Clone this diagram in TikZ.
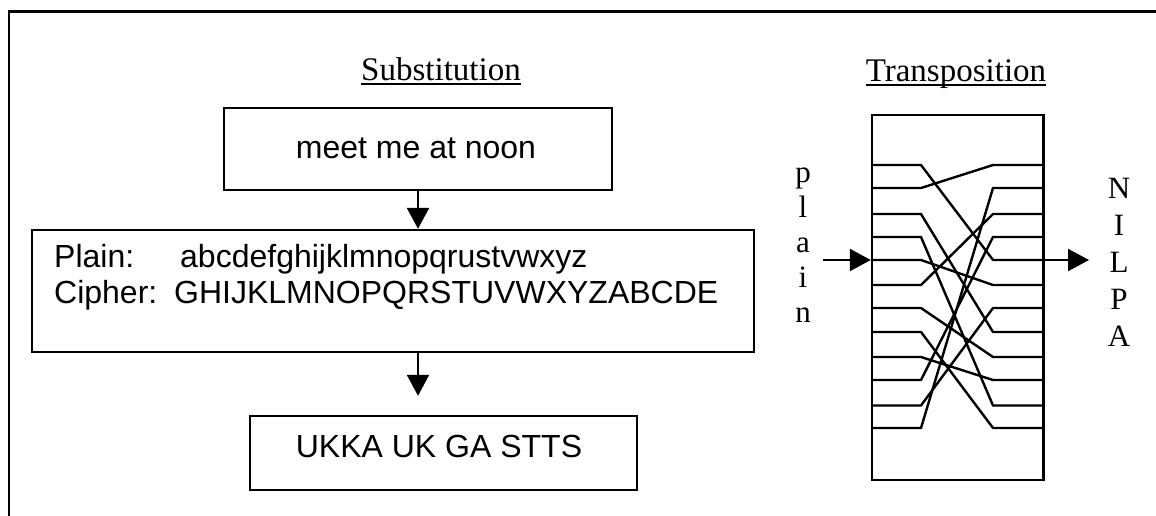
\documentclass[tikz,border=0pt]{standalone}
\usepackage{fontspec}
\setmainfont{Liberation Serif}
\newfontfamily\arialf{Liberation Sans}
\usetikzlibrary{arrows.meta}
\begin{document}
\begin{tikzpicture}[x=1pt,y=-1pt,
  ln/.style={line width=2.4pt},
  wire/.style={line width=2.4pt,line join=miter},
  arr/.style={line width=2.4pt,-{Triangle[length=21pt,width=22pt]}},
  box/.style={draw,line width=2.4pt,rectangle,inner sep=0pt},
  sans/.style={font=\arialf\fontsize{32}{38}\selectfont,inner sep=0pt},
  serif/.style={font=\fontsize{33}{40}\selectfont,inner sep=0pt},
  letter/.style={font=\fontsize{31}{36}\selectfont,inner sep=0pt,anchor=base},
  uline/.style={line width=2pt},
]
\useasboundingbox (0,0) rectangle (1156,515);
% outer frame (cut off at right and bottom)
\draw[ln] (9,520) -- (9,11.5) -- (1160,11.5);

% ---------- Substitution ----------
\node[serif,anchor=base] (subst) at (441,80) {Substitution};
\draw[uline] ([yshift=-4pt]subst.base west) -- ([yshift=-4pt]subst.base east);

\node[box,minimum width=388pt,minimum height=82pt] (b1) at (418,149) {};
\node[sans,anchor=base] (meet) at (416,158) {meet me at noon};

\node[box,minimum width=722pt,minimum height=122pt] (b2) at (393,291) {};
\node[sans,anchor=base west] (plainlab) at (54,267) {Plain:};
\node[sans,anchor=base west] (plainabc) at (180,267) {abcdefghijklmnopqrustvwxyz};
\node[sans,anchor=base west] (cipherlab) at (54,303) {Cipher:};
\node[sans,anchor=base west] (cipherabc) at (174,303) {GHIJKLMNOPQRSTUVWXYZABCDE};

\node[box,minimum width=387pt,minimum height=74pt] (b3) at (443.5,453) {};
\node[sans,anchor=base] (ukka) at (439,457) {UKKA UK GA STTS};

\coordinate (ax) at (418,0);
\draw[arr] (b1.south -| ax) -- (b2.north -| ax);
\draw[arr,shorten >=19pt] (b2.south -| ax) -- (b3.north -| ax);

% ---------- Transposition ----------
\node[serif,anchor=base] (trans) at (956,81) {Transposition};
\draw[uline] ([yshift=-4pt]trans.base west) -- ([yshift=-4pt]trans.base east);

\node[box,minimum width=171.5pt,minimum height=365pt] (tb) at (957.75,297.5) {};

\foreach \a/\b in {1/5,2/1,3/8,4/11,5/6,6/3,7/9,8/12,9/10,10/4,11/7,12/2}{
  \pgfmathsetmacro{\ya}{{165,188,214,237,260,285,308,332,357,380,405.5,428}[\a-1]}
  \pgfmathsetmacro{\yb}{{165,188,214,237,260,285,308,332,357,380,405.5,428}[\b-1]}
  \draw[wire] (872,\ya) -- (921,\ya) -- (993,\yb) -- (1043.5,\yb);
}

\coordinate (pin) at (823,260);
\coordinate (pout) at (1089,260);
\draw[arr] (pin) -- (tb.west |- pin);
\draw[arr] (tb.east |- pout) -- (pout);

\foreach \c [count=\i] in {p,l,a,i,n}
  \node[letter] (pl\i) at (803,147+35*\i) {\c};
\foreach \c [count=\i] in {N,I,L,P,A}
  \node[letter] (ct\i) at (1119,161+37*\i) {\c};
\end{tikzpicture}
\end{document}
